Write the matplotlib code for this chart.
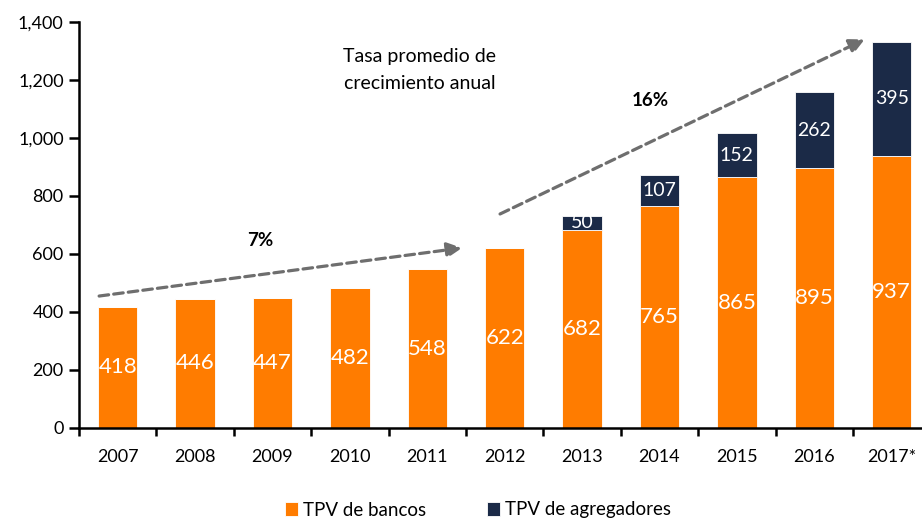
import numpy as np
import matplotlib.pyplot as plt
from matplotlib.ticker import FuncFormatter

plt.rcParams['font.family'] = ['Lato', 'DejaVu Sans']

years = ['2007', '2008', '2009', '2010', '2011', '2012', '2013', '2014', '2015', '2016', '2017*']
bancos = [418, 446, 447, 482, 548, 622, 682, 765, 865, 895, 937]
agregadores = [0, 0, 0, 0, 0, 0, 50, 107, 152, 262, 395]

orange = '#FF7C00'
navy = '#1B2A47'

fig = plt.figure(figsize=(9.22, 5.2), dpi=100)
ax = fig.add_axes([79/922, 1-428/520, 1-79/922, (428-22)/520])

x = np.arange(len(years))
ax.bar(x, bancos, width=0.51, color=orange, edgecolor='white', linewidth=0.6, label='TPV de bancos')
ax.bar(x, agregadores, width=0.51, bottom=bancos, color=navy, edgecolor='white', linewidth=0.6,
       label='TPV de agregadores')

for i in range(len(years)):
    ax.text(x[i], bancos[i]/2, str(bancos[i]), ha='center', va='center', color='white', fontsize=16)
    if agregadores[i] > 0:
        ax.text(x[i], bancos[i] + agregadores[i]/2, str(agregadores[i]), ha='center', va='center',
                color='white', fontsize=14)

# growth arrows
ax.annotate('', xy=(4.45, 621), xytext=(-0.24, 455),
            arrowprops=dict(arrowstyle='-|>,head_length=0.9,head_width=0.45', color='#6E6E6E',
                            lw=2.3, linestyle=(0, (3, 1.6)), shrinkA=0, shrinkB=0))
ax.annotate('', xy=(9.65, 1340), xytext=(4.94, 738),
            arrowprops=dict(arrowstyle='-|>,head_length=0.9,head_width=0.45', color='#6E6E6E',
                            lw=2.3, linestyle=(0, (3, 1.6)), shrinkA=0, shrinkB=0))
ax.text(1.84, 648, '7%', ha='center', va='center', fontsize=13.5, fontweight='bold')
ax.text(6.88, 1128, '16%', ha='center', va='center', fontsize=13.5, fontweight='bold')
ax.text(3.9, 1234, 'Tasa promedio de\ncrecimiento anual', ha='center', va='center', fontsize=14,
        linespacing=1.75)

ax.set_ylim(0, 1400)
ax.set_xlim(-0.5, (922-79)/77.4 - 0.5)
ax.set_yticks(np.arange(0, 1401, 200))
ax.yaxis.set_major_formatter(FuncFormatter(lambda v, p: f'{int(v):,}'))
ax.set_xticks(x)
ax.set_xticklabels(years)
ax.set_xticks(np.arange(-0.5, len(years) - 0.5, 1), minor=True)
ax.tick_params(axis='x', which='major', length=0, pad=15, labelsize=13)
ax.tick_params(axis='x', which='minor', length=6, width=1.8, direction='out')
ax.tick_params(axis='y', length=7, width=1.8, labelsize=13, pad=4)
for s in ['top', 'right']:
    ax.spines[s].set_visible(False)
for s in ['left', 'bottom']:
    ax.spines[s].set_linewidth(1.8)

fig.legend(loc='center', bbox_to_anchor=(478/922, 1-510/520), ncol=2, frameon=False, fontsize=13.5,
           handlelength=0.7, handleheight=0.7, handletextpad=0.3, columnspacing=3.2)

fig.savefig('out.png', dpi=100)
